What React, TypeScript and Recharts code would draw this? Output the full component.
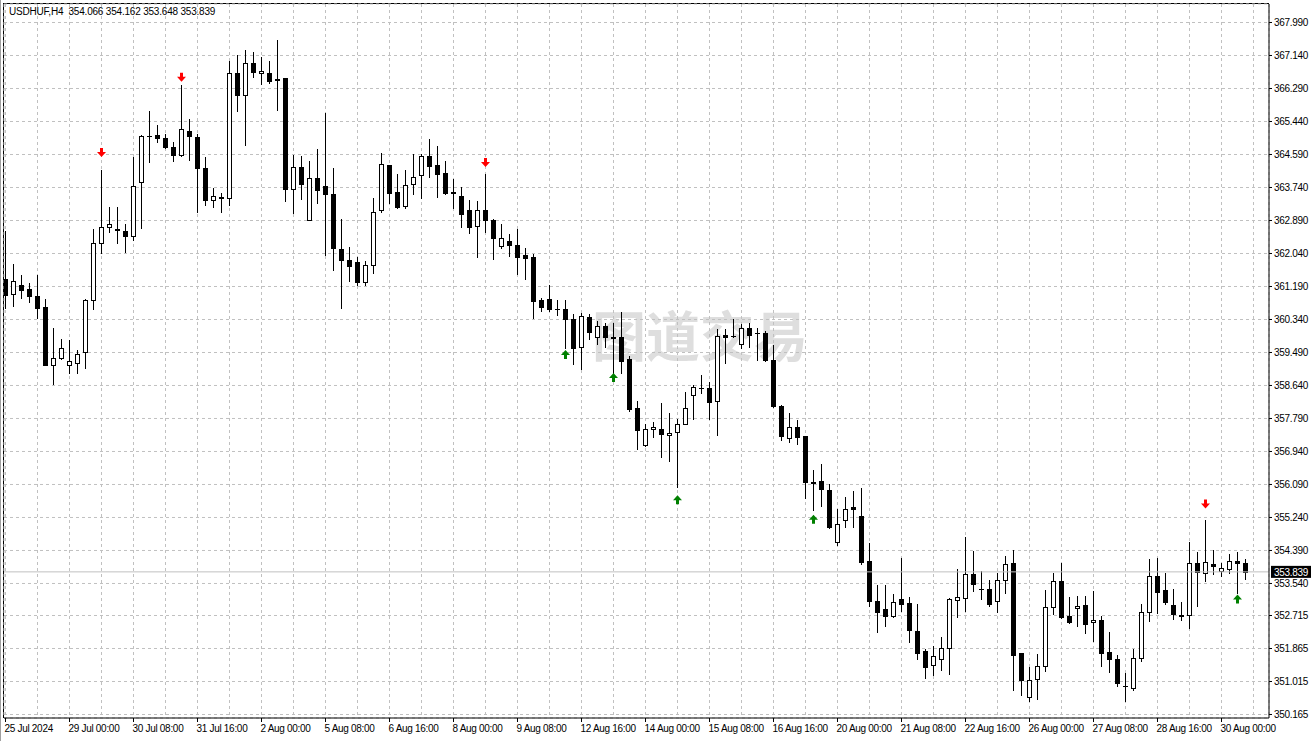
import React from 'react';
import { ComposedChart, Bar, Scatter, XAxis, YAxis, CartesianGrid, ReferenceLine } from 'recharts';

// USDHUF H4 candles, 25 Jul 16:00 .. 30 Aug 12:00
const opens = [
  361.39, 360.99, 361.23, 361.13, 360.95, 360.67, 359.17, 359.35, 359.17, 359.22,
  359.51, 360.85, 362.32, 362.73, 362.67, 362.62, 362.49, 363.88, 365.06, 365.08,
  365.02, 364.79, 364.58, 365.2, 365.05, 364.25, 363.42, 363.5, 363.47, 366.69,
  366.13, 366.95, 366.69, 366.69, 366.52, 366.56, 363.7, 364.27, 362.91, 363.99,
  363.77, 363.58, 362.16, 361.88, 361.83, 361.31, 361.75, 363.16, 364.32, 363.63,
  363.27, 363.83, 364.07, 364.56, 364.31, 364.12, 363.62, 363.52, 363.16, 362.75,
  363.15, 362.89, 362.23, 362.37, 362.27, 362.01, 361.94, 360.83, 360.87, 360.62,
  360.61, 360.36, 359.64, 360.4, 359.89, 360.18, 359.89, 359.9, 359.31, 358.06,
  357.1, 357.51, 357.53, 357.36, 357.45, 357.65, 358.4, 358.58, 358.58, 358.24,
  359.93, 359.91, 359.71, 360.13, 360.0, 360.0, 359.3, 358.12, 357.29, 357.56,
  357.33, 356.15, 356.18, 355.96, 354.61, 355.18, 355.51, 355.29, 354.13, 353.08,
  352.87, 352.7, 353.13, 353.04, 352.32, 351.79, 351.44, 351.59, 351.88, 353.12,
  353.17, 353.79, 353.41, 353.4, 353.09, 353.63, 354.08, 351.74, 350.62, 351.08,
  351.42, 352.94, 353.61, 352.71, 352.91, 352.99, 352.55, 352.6, 351.78, 351.6,
  350.91, 350.84, 351.63, 352.81, 353.72, 353.36, 352.99, 352.74, 352.72, 354.06,
  353.81, 354.05, 353.87, 353.91, 354.11, 354.066,
];
const highs = [
  362.63, 361.78, 361.49, 361.27, 361.49, 360.86, 360.13, 359.85, 359.82, 359.56,
  360.87, 362.68, 364.2, 363.25, 363.25, 362.81, 364.52, 365.08, 365.7, 365.34,
  365.11, 364.9, 366.37, 365.51, 365.13, 364.52, 363.73, 363.6, 366.99, 367.14,
  367.27, 367.24, 367.11, 366.99, 367.55, 366.57, 364.58, 364.56, 364.41, 364.74,
  365.67, 364.25, 362.93, 362.22, 361.95, 361.84, 363.48, 364.62, 364.33, 364.09,
  364.18, 364.59, 364.59, 365.0, 364.8, 364.43, 363.95, 363.76, 363.41, 363.38,
  364.08, 362.94, 362.81, 362.53, 362.68, 362.17, 362.03, 360.9, 361.23, 360.85,
  360.83, 360.47, 360.5, 360.47, 360.31, 360.25, 360.26, 360.52, 359.39, 358.25,
  357.65, 357.71, 358.18, 357.94, 357.77, 358.46, 358.65, 358.9, 358.74, 360.1,
  360.1, 360.36, 360.23, 360.26, 360.12, 360.05, 359.67, 358.13, 357.94, 357.74,
  357.34, 356.47, 356.61, 356.09, 355.47, 355.78, 355.93, 355.99, 354.57, 353.49,
  353.49, 353.27, 354.19, 353.18, 353.02, 351.84, 351.93, 352.16, 353.16, 353.91,
  354.75, 354.37, 353.85, 353.64, 353.81, 354.25, 354.41, 351.75, 351.4, 351.73,
  353.36, 353.8, 354.06, 353.2, 353.22, 353.22, 353.35, 352.7, 352.28, 351.69,
  351.24, 351.86, 353.02, 354.16, 354.19, 353.8, 353.39, 353.05, 354.6, 354.34,
  355.18, 354.39, 354.08, 354.31, 354.34, 354.162,
];
const lows = [
  360.63, 360.7, 360.89, 360.79, 360.37, 359.16, 358.67, 359.32, 358.96, 358.96,
  359.1, 360.61, 362.05, 362.59, 362.31, 362.07, 362.4, 362.69, 364.39, 364.92,
  364.75, 364.43, 364.56, 364.45, 363.1, 363.29, 363.23, 363.1, 363.29, 365.71,
  364.83, 366.58, 366.41, 366.43, 365.73, 363.39, 363.08, 363.44, 362.9, 363.34,
  362.01, 361.62, 360.64, 361.33, 361.22, 361.22, 361.53, 363.1, 363.35, 363.21,
  363.21, 363.57, 363.46, 364.01, 363.49, 363.57, 363.21, 362.72, 362.56, 361.95,
  362.59, 361.89, 362.19, 361.97, 361.51, 361.38, 360.37, 360.55, 360.56, 360.46,
  359.61, 359.2, 359.06, 359.84, 359.71, 359.63, 358.9, 358.96, 357.98, 357.0,
  357.09, 357.31, 356.79, 356.69, 356.02, 357.64, 357.77, 358.45, 357.77, 357.36,
  359.22, 359.89, 359.61, 359.63, 359.29, 359.28, 358.09, 357.23, 357.18, 357.13,
  355.74, 355.44, 355.53, 354.98, 354.53, 354.99, 354.99, 354.04, 352.95, 352.29,
  352.44, 352.67, 352.82, 352.03, 351.59, 351.1, 351.19, 351.32, 351.2, 352.67,
  352.82, 353.34, 353.14, 352.96, 352.8, 353.3, 350.8, 350.66, 350.5, 350.57,
  351.28, 352.75, 352.66, 352.52, 352.44, 352.26, 352.05, 351.42, 351.26, 350.89,
  350.5, 350.8, 351.54, 352.57, 352.79, 353.0, 352.62, 352.59, 352.39, 352.97,
  353.6, 353.78, 353.72, 353.81, 353.3, 353.648,
];
const closes = [
  360.98, 361.34, 361.1, 360.94, 360.64, 359.18, 359.35, 359.61, 359.28, 359.46,
  360.85, 362.32, 362.73, 362.81, 362.65, 362.49, 363.78, 365.07, 365.07, 365.01,
  364.78, 364.58, 365.25, 365.06, 364.24, 363.42, 363.53, 363.48, 366.69, 366.12,
  366.95, 366.71, 366.75, 366.48, 366.53, 363.7, 364.27, 363.83, 363.99, 363.67,
  363.57, 362.18, 361.87, 361.72, 361.3, 361.75, 363.11, 364.35, 363.59, 363.23,
  363.81, 364.01, 364.56, 364.29, 364.09, 363.59, 363.6, 363.05, 362.72, 363.16,
  362.9, 362.44, 362.43, 362.25, 361.95, 361.92, 360.81, 360.66, 360.6, 360.6,
  360.35, 359.6, 360.43, 360.02, 360.18, 359.88, 359.87, 359.27, 358.03, 357.49,
  357.52, 357.56, 357.39, 357.42, 357.65, 358.06, 358.61, 358.57, 358.22, 359.92,
  359.89, 359.92, 360.13, 359.94, 359.98, 359.29, 358.1, 357.34, 357.56, 357.31,
  356.15, 356.14, 355.98, 354.99, 355.08, 355.46, 355.45, 354.09, 353.08, 352.8,
  352.7, 353.07, 353.02, 352.34, 351.75, 351.38, 351.68, 351.88, 353.13, 353.18,
  353.79, 353.53, 353.4, 353.01, 353.63, 354.05, 351.7, 351.06, 351.06, 351.42,
  352.94, 353.61, 352.67, 352.54, 352.96, 352.5, 352.6, 351.75, 351.59, 350.97,
  350.9, 351.63, 352.81, 353.74, 353.32, 353.06, 352.75, 352.69, 354.06, 353.83,
  354.1, 353.99, 353.94, 354.12, 354.06, 353.839,
];

// fractal arrows: bar index and the price the arrow sits at
const downFractalBars = [12, 22, 60, 150];
const downFractalPrices = [364.63, 366.57, 364.37, 355.575];
const upFractalBars = [70, 76, 84, 101, 154];
const upFractalPrices = [359.45, 358.86, 355.71, 355.21, 353.15];

// one time label every 8 bars, grid every 4
const timeLabels = [
  '25 Jul 2024', '29 Jul 00:00', '30 Jul 08:00', '31 Jul 16:00', '2 Aug 00:00',
  '5 Aug 08:00', '6 Aug 16:00', '8 Aug 00:00', '9 Aug 08:00', '12 Aug 16:00',
  '14 Aug 00:00', '15 Aug 08:00', '16 Aug 16:00', '20 Aug 00:00', '21 Aug 08:00',
  '22 Aug 16:00', '26 Aug 00:00', '27 Aug 08:00', '28 Aug 16:00', '30 Aug 00:00',
];
const gridBars = [
  0, 4, 8, 12, 16, 20, 24, 28, 32, 36, 40, 44, 48, 52, 56, 60, 64, 68, 72, 76,
  80, 84, 88, 92, 96, 100, 104, 108, 112, 116, 120, 124, 128, 132, 136, 140, 144, 148, 152, 156,
];
const priceTicks = [
  367.99, 367.14, 366.29, 365.44, 364.59, 363.74, 362.89, 362.04, 361.19, 360.34, 359.49,
  358.64, 357.79, 356.94, 356.09, 355.24, 354.39, 353.54, 352.715, 351.865, 351.015, 350.165,
];

const symbol = 'USDHUF,H4';
const lastPrice = 353.839;
const watermark = '图道交易';

const data = opens.map((o, i) => ({
  idx: i,
  open: o,
  high: highs[i],
  low: lows[i],
  close: closes[i],
  range: [lows[i], highs[i]],
}));
const downArrows = downFractalBars.map((b, k) => ({ idx: b, price: downFractalPrices[k] }));
const upArrows = upFractalBars.map((b, k) => ({ idx: b, price: upFractalPrices[k] }));

const FONT = '"Liberation Sans", Arial, sans-serif';

const Candle = (props: any) => {
  const { x, y, width, height, payload } = props;
  if (x == null || y == null || !payload) return <g />;
  const top = Math.min(y, y + height);
  const h = Math.abs(height);
  const { open, close, high, low } = payload;
  const span = high - low || 1;
  const py = (v: number) => top + ((high - v) / span) * h;
  const cx = Math.floor(x + width / 2) + 0.5;
  const yo = py(open);
  const yc = py(close);
  const bodyTop = Math.round(Math.min(yo, yc)) + 0.5;
  const bodyBot = Math.round(Math.max(yo, yc)) + 0.5;
  const bull = close >= open;
  return (
    <g>
      <line x1={cx} x2={cx} y1={Math.round(top)} y2={Math.round(top + h) + 1} stroke="#000" strokeWidth={1} />
      {bodyBot - bodyTop < 1 ? (
        <line x1={cx - 2.5} x2={cx + 2.5} y1={bodyTop} y2={bodyTop} stroke="#000" strokeWidth={1} />
      ) : (
        <rect
          x={cx - 2}
          y={bodyTop}
          width={4}
          height={bodyBot - bodyTop}
          fill={bull ? '#fff' : '#000'}
          stroke="#000"
          strokeWidth={1}
        />
      )}
    </g>
  );
};

const DownArrow = ({ cx, cy }: any) => {
  if (cx == null || cy == null) return <g />;
  return <path d={`M${cx - 1.5},${cy - 5} h3 v4 h3 l-4.5,5 l-4.5,-5 h3 z`} fill="#ff0000" />;
};

const UpArrow = ({ cx, cy }: any) => {
  if (cx == null || cy == null) return <g />;
  return <path d={`M${cx - 1.5},${cy + 5} h3 v-4 h3 l-4.5,-5 l-4.5,5 h3 z`} fill="#008000" />;
};

const TimeTick = (props: any) => {
  const { x, y, payload } = props;
  const v = payload?.value;
  if (v == null || v % 8 !== 0 || !timeLabels[v / 8]) return <g />;
  const ax = Math.floor(x) + 0.5;
  return (
    <g>
      <line x1={ax} x2={ax} y1={y} y2={y + 4} stroke="#000" />
      <text x={ax - 1} y={y + 14} fontSize={10} fontFamily={FONT} letterSpacing="-0.3" fill="#000" textAnchor="start">
        {timeLabels[v / 8]}
      </text>
    </g>
  );
};

const PriceBox = (props: any) => {
  const vb = props.viewBox;
  if (!vb) return <g />;
  const left = vb.x + vb.width + 2;
  return (
    <g>
      <rect x={left} y={vb.y - 6} width={40} height={12} fill="#000" />
      <text x={left + 3} y={vb.y + 4} fontSize={10} fontFamily={FONT} letterSpacing="-0.3" fill="#fff">
        {lastPrice.toFixed(3)}
      </text>
    </g>
  );
};

export default function App() {
  return (
    <div style={{ position: 'relative', width: 1316, height: 741, background: '#fff', overflow: 'hidden' }}>
      <style>{'body{margin:0}'}</style>
      <div
        style={{
          position: 'absolute',
          left: 592,
          top: 307,
          fontFamily: '"Noto Sans CJK SC", sans-serif',
          fontWeight: 700,
          fontSize: 54,
          lineHeight: '54px',
          letterSpacing: 0,
          color: '#dedede',
          whiteSpace: 'nowrap',
        }}
      >
        {watermark}
      </div>
      <div style={{ position: 'absolute', left: 0, top: 0, width: 1, height: 741, background: '#a0a0a0' }} />
      <div style={{ position: 'absolute', left: 3, top: 3, width: 1266, height: 1, background: '#000' }} />
      <div style={{ position: 'absolute', left: 3, top: 3, width: 1, height: 715, background: '#000' }} />
      <div
        style={{
          position: 'absolute',
          left: 9,
          top: 6,
          fontFamily: FONT,
          fontSize: 10,
          letterSpacing: '-0.2px',
          lineHeight: '12px',
          color: '#000',
          whiteSpace: 'pre',
          zIndex: 2,
        }}
      >
        {`${symbol}  ${opens[155].toFixed(3)} ${highs[155].toFixed(3)} ${lows[155].toFixed(3)} ${closes[155].toFixed(3)}`}
      </div>
      <div style={{ position: 'absolute', left: 0, top: 0, zIndex: 1 }}>
        <ComposedChart
          width={1316}
          height={741}
          data={data}
          margin={{ top: 4, right: 0, bottom: 0, left: 4 }}
        >
          <CartesianGrid stroke="#c0c0c0" strokeDasharray="3 3" />
          <XAxis
            dataKey="idx"
            type="number"
            domain={[-0.1875, 157.9375]}
            allowDataOverflow
            ticks={gridBars}
            interval={0}
            height={23}
            tickLine={false}
            tickSize={0}
            tickMargin={0}
            axisLine={{ stroke: '#000' }}
            tick={<TimeTick />}
          />
          <YAxis
            orientation="right"
            width={47}
            domain={[350.0748, 368.4665]}
            allowDataOverflow
            ticks={priceTicks}
            interval={0}
            tickSize={3}
            tickMargin={2}
            axisLine={{ stroke: '#000' }}
            tickLine={{ stroke: '#000' }}
            tick={{ fill: '#000', fontSize: 10, fontFamily: FONT, letterSpacing: '-0.3' }}
            tickFormatter={(v: number) => v.toFixed(3)}
          />
          <ReferenceLine y={lastPrice} stroke="#c0c0c0" strokeWidth={1} label={<PriceBox />} ifOverflow="visible" />
          <Bar dataKey="range" barSize={5} shape={<Candle />} isAnimationActive={false} />
          <Scatter data={downArrows} dataKey="price" shape={<DownArrow />} isAnimationActive={false} />
          <Scatter data={upArrows} dataKey="price" shape={<UpArrow />} isAnimationActive={false} />
        </ComposedChart>
      </div>
    </div>
  );
}
